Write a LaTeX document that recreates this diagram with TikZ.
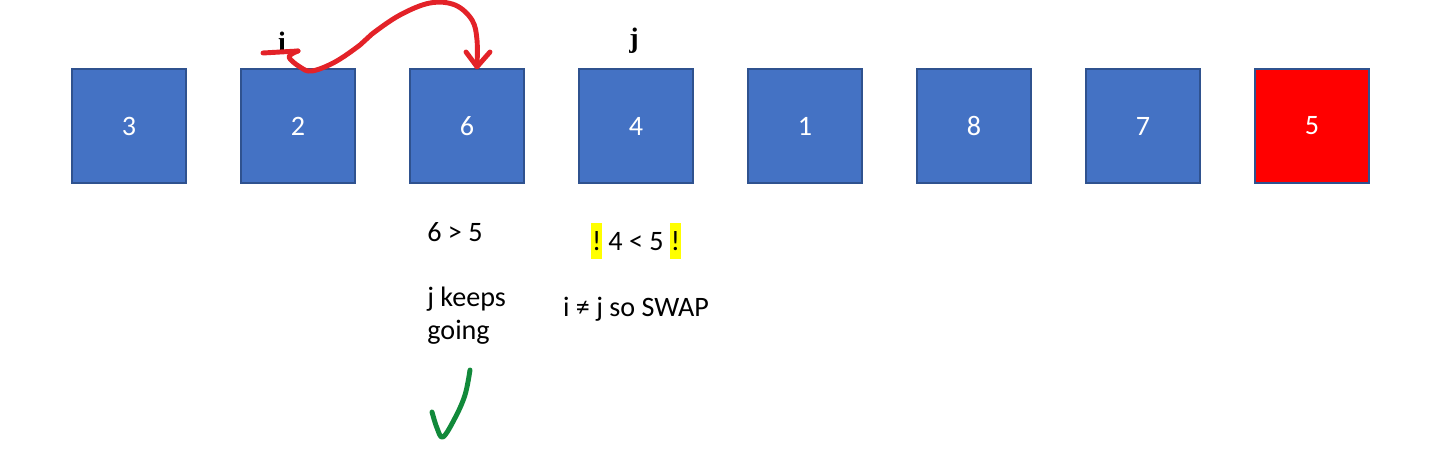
\documentclass[tikz,border=0pt]{standalone}
\usepackage{fontspec}
\setmainfont{Carlito}
\newfontfamily\labelfont{Liberation Serif}
\usetikzlibrary{positioning}
\definecolor{boxblue}{HTML}{4472C4}
\definecolor{edgeblue}{HTML}{2F528F}
\definecolor{penred}{HTML}{E32228}
\definecolor{pengreen}{HTML}{11893A}
\definecolor{mark}{HTML}{FFFF00}
\newcommand{\hl}[1]{{\setlength{\fboxsep}{0.5pt}\colorbox{mark}{\rule[-0.3em]{0pt}{1.25em}#1}}}
\begin{document}
\begin{tikzpicture}
    \tikzstyle{every node}=[node distance=3.38cm]
    \tikzstyle{box}=[draw=edgeblue, line width=0.8pt, fill=boxblue, minimum size=2.28cm, inner sep=0pt, text=white, font=\fontsize{16}{19}\selectfont]
    \tikzstyle{note}=[font=\fontsize{16}{18.7}\selectfont, inner sep=0pt]
    \tikzstyle{pen}=[line width=2.8pt, line cap=round, line join=round]
    \useasboundingbox (0,0) rectangle (28.82,9.42);

    \node (n3) [box] at (2.58,6.90) {3};
    \node (n2) [box, right of=n3] {2};
    \node (n6) [box, right of=n2] {6};
    \node (n4) [box, right of=n6] {4};
    \node (n1) [box, right of=n4] {1};
    \node (n8) [box, right of=n1] {8};
    \node (n7) [box, right of=n8] {7};
    \node (n5) [box, right of=n7, fill=red] {5};

    \node (i) [font=\labelfont\bfseries\fontsize{16}{19}\selectfont] at (5.64,8.58) {i};
    \node (j) [font=\labelfont\bfseries\fontsize{16}{19}\selectfont] at (12.68,8.60) {j};

    \node (gt) [note, anchor=west] at (8.54,4.78) {6 > 5};
    \node (keep) [note, anchor=west, align=left] at (8.54,3.10) {j keeps\\going};
    \node (lt) [note] at (12.72,4.60) {\hl{!} 4 < 5 \hl{!}};
    \node (swap) [note] at (12.72,3.24) {i ≠ j so SWAP};

    % hand drawn swap arrow
    \coordinate (tip) at ([xshift=0.2cm,yshift=0.03cm]n6.north);
    \draw[pen, penred] (5.26,8.36) -- (5.96,8.40);
    \draw[pen, penred] plot[smooth, tension=0.6] coordinates {(5.96,8.40) (5.78,8.28) (6.00,8.08) (6.24,8.00) (6.70,8.18) (7.20,8.52) (7.44,8.74) (8.00,9.12) (8.60,9.36) (9.10,9.32) (9.44,9.02) (9.54,8.62) (tip)};
    \draw[pen, penred] (9.32,8.38) -- (tip) -- (9.80,8.38);

    % tick
    \draw[pen, pengreen] plot[smooth, tension=0.6] coordinates {(8.64,1.18) (8.74,0.86) (8.86,0.68) (9.10,1.06) (9.30,1.52) (9.40,2.02)};
\end{tikzpicture}
\end{document}
